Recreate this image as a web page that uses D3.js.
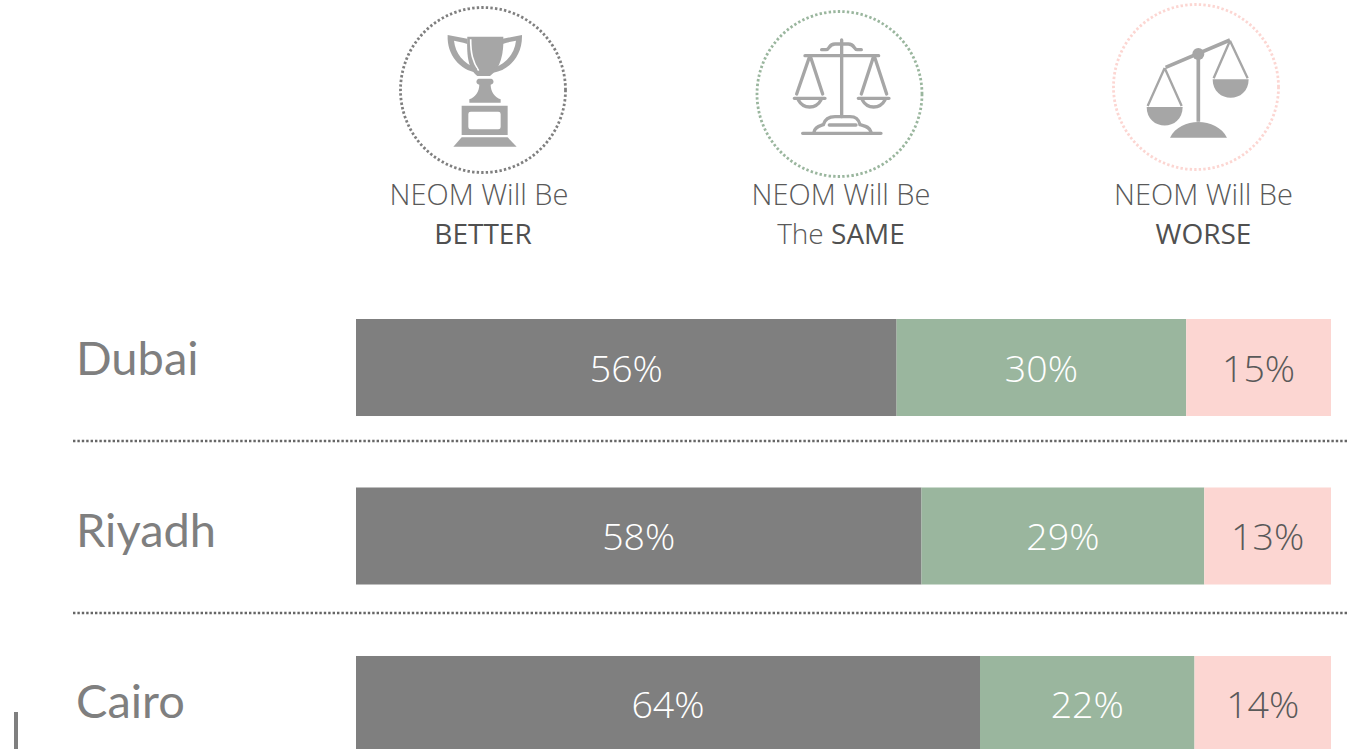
<!DOCTYPE html>
<html><head><meta charset="utf-8">
<script src="https://cdnjs.cloudflare.com/ajax/libs/d3/7.8.5/d3.min.js"></script>
<style>html,body{margin:0;padding:0;background:#fff;overflow:hidden}svg{display:block}text{font-family:"Open Sans",sans-serif}</style>
</head><body><svg id="c" width="1349" height="749"></svg>
<script>
const cities = ["Dubai","Riyadh","Cairo"];
const seriesNames = ["better","same","worse"];
const better = [56,58,64];
const same = [30,29,22];
const worse = [15,13,14];
const seriesColors = ["#7f7f7f","#9ab69e","#fcd6d2"];
const labelColors = ["#ffffff","#ffffff","#595959"];
const headLine1 = ["NEOM Will Be","NEOM Will Be","NEOM Will Be"];
const headPlain = ["","The ","" ];
const headBold = ["BETTER","SAME","WORSE"];

const svg = d3.select("#c");
const rows = cities.map((c,i)=>({city:c,better:better[i],same:same[i],worse:worse[i]}));
const stack = d3.stack().keys(seriesNames).offset(d3.stackOffsetExpand)(rows);
const x = d3.scaleLinear().domain([0,1]).range([356,1331]);
const y = d3.scaleBand().domain(cities).range([319,753]).paddingInner(0.4243).paddingOuter(0);
const labelY = d3.scalePoint().domain(cities).range([375,718]);

// separators
[441,613].forEach(py=>svg.append("line").attr("x1",73).attr("x2",1349).attr("y1",py).attr("y2",py)
  .attr("stroke","#666").attr("stroke-width",2.6).attr("stroke-dasharray","2.4 2"));

// bars
stack.forEach((s,si)=>{
  const g = svg.append("g");
  g.selectAll("rect").data(s).join("rect")
    .attr("x",d=>x(d[0])).attr("width",d=>x(d[1])-x(d[0]))
    .attr("y",d=>y(d.data.city)).attr("height",y.bandwidth()).attr("fill",seriesColors[si]);
  g.selectAll("text").data(s).join("text")
    .attr("x",d=>(x(d[0])+x(d[1]))/2).attr("y",d=>y(d.data.city)+y.bandwidth()/2+14)
    .attr("text-anchor","middle").attr("font-size",37.5).attr("font-weight",300)
    .attr("fill",labelColors[si]).text(d=>d.data[seriesNames[si]]+"%");
});

// category labels
svg.selectAll("text.cat").data(cities).join("text").attr("class","cat")
  .attr("x",76).attr("y",d=>labelY(d)).attr("font-size",47).attr("fill","#7f7f7f")
  .style("font-family","Lato, sans-serif").text(d=>d);

// column heads
const headX = [479,841,1203.5];
const head2X = [483,841,1203.5];
headLine1.forEach((t,i)=>{
  svg.append("text").attr("x",headX[i]).attr("y",205).attr("text-anchor","middle")
    .attr("font-size",29).attr("font-weight",300).attr("fill","#595959").text(t);
  const t2 = svg.append("text").attr("x",head2X[i]).attr("y",244).attr("text-anchor","middle")
    .attr("font-size",28).attr("fill","#595959").attr("font-weight",300);
  if(headPlain[i]) t2.append("tspan").text(headPlain[i]);
  t2.append("tspan").attr("font-weight",400).attr("fill","#505050").text(headBold[i]);
});

// dotted rings
const rings = [[483,90,82.5,"#7f7f7f"],[839.5,94,82.5,"#9ab69e"],[1196,87,82.5,"#fcd6d2"]];
rings.forEach(r=>svg.append("circle").attr("cx",r[0]).attr("cy",r[1]).attr("r",r[2]).attr("fill","none")
  .attr("stroke",r[3]).attr("stroke-width",2.8).attr("stroke-dasharray","2.4 2.2"));

const G="#a6a6a6";
// trophy, drawn in 3x zoom coordinates
const tr = svg.append("g").attr("transform","translate(380,0) scale(0.3333)");
tr.append("path").attr("fill",G).attr("d","M262 110H370C372 160 362 205 330 228H292C262 205 260 160 262 110Z");
tr.append("path").attr("stroke","#fff").attr("stroke-width",5).attr("fill","none").attr("d","M272 118C272 160 278 185 296 212");
tr.append("path").attr("fill",G).attr("d","M203 105L262 116V132L250 128L222 122C226 160 250 190 290 205V218C240 210 200 165 203 105Z");
tr.append("path").attr("fill",G).attr("d","M426 105L368 116V132L380 128L408 122C404 160 380 190 340 205V218C390 210 428 165 426 105Z");
tr.append("path").attr("fill",G).attr("d","M296 236H334C344 240 342 252 332 254C332 275 345 292 362 298V308H268V298C285 292 298 275 298 254C288 252 286 240 296 236Z");
tr.append("path").attr("fill",G).attr("fill-rule","evenodd").attr("d","M245 317H383V405H245ZM272 335Q265 335 265 342V381Q265 388 272 388H355Q362 388 362 381V342Q362 335 355 335Z");
tr.append("path").attr("fill",G).attr("d","M245 412H383L410 440H220Z");

// balanced scale
const sc = svg.append("g").attr("transform","translate(740,0) scale(0.3333)").attr("fill","none").attr("stroke",G).attr("stroke-width",10).attr("stroke-linecap","round");
sc.append("path").attr("d","M305 120V350M195 167H416M245 149H258C270 149 265 132 285 132H325C345 132 340 149 352 149H364");
sc.append("path").attr("d","M208 172L170 282M212 172L248 282M400 172L364 282M404 172L440 282");
sc.append("path").attr("d","M163 295H255M355 295H447M175 300C190 328 228 328 243 300M367 300C382 328 420 328 435 300");
sc.append("path").attr("d","M188 400H423M222 396C226 378 240 378 250 374C256 354 270 350 285 350H330C345 350 355 354 360 374C372 378 388 378 393 396M268 375H348");

// tilted scale
const sw = svg.append("g").attr("transform","translate(1100,0) scale(0.3333)");
sw.append("path").attr("stroke",G).attr("stroke-width",11).attr("fill","none").attr("d","M197 202L390 120M295 160V365");
sw.append("circle").attr("cx",295).attr("cy",162).attr("r",18).attr("fill",G);
sw.append("path").attr("stroke",G).attr("stroke-width",7).attr("fill","none").attr("d","M194 204L143 318M194 204L245 318M390 122L341 235M390 122L443 235");
sw.append("path").attr("fill",G).attr("d","M140 321H248C248 395 140 395 140 321Z");
sw.append("path").attr("fill",G).attr("d","M338 238H446C446 312 338 312 338 238Z");
sw.append("path").attr("fill",G).attr("d","M210 413C240 350 350 350 381 413Z");

// stray mark bottom-left
svg.append("rect").attr("x",14).attr("y",712).attr("width",4).attr("height",37).attr("fill","#7f7f7f");
</script></body></html>
